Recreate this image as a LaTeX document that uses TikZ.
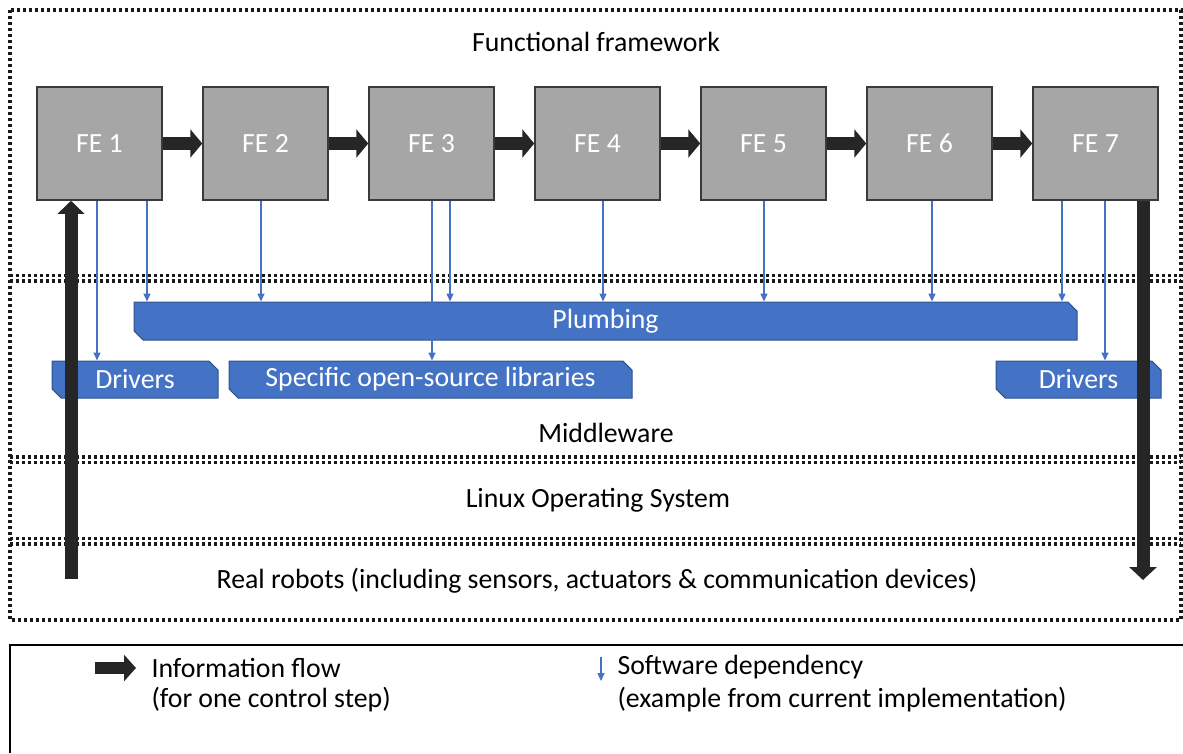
\documentclass[tikz,border=0pt]{standalone}
\usepackage{fontspec}
\setmainfont{Carlito}
\usetikzlibrary{arrows.meta,shapes.misc}

\definecolor{feGray}{HTML}{A6A6A6}
\definecolor{feEdge}{HTML}{3A3A3A}
\definecolor{depBlue}{HTML}{4472C4}
\definecolor{barEdge}{HTML}{2F528F}
\definecolor{flowBlack}{HTML}{262626}

\begin{document}
\begin{tikzpicture}[x=1pt,y=-1pt,
	every node/.style={font=\fontsize{27.8}{33}\selectfont},
	fe/.style={draw=feEdge,line width=1.5pt,fill=feGray,text=white,minimum width=125pt,minimum height=113pt,inner sep=0pt},
	flow/.style={draw=flowBlack,line width=13pt,-{Triangle[length=12pt,width=28pt]}},
	dep/.style={draw=depBlue,line width=1.5pt,-{Triangle[length=8pt,width=7pt]}},
	bar/.style={chamfered rectangle,chamfered rectangle corners={north east,south west},chamfered rectangle xsep=6pt,draw=barEdge,line width=1pt,fill=depBlue,text=white,minimum height=38pt,inner sep=0pt},
	layer/.style={line width=3.4pt,dash pattern=on 3.2pt off 2.8pt,draw=black!90}]
	\useasboundingbox (0,0) rectangle (1183,753);

	% layers
	\draw[layer] (10,10) rectangle (1181,620);
	\draw[layer] (10,275.5) -- (1181,275.5);
	\draw[layer] (10,281) -- (1181,281);
	\draw[layer] (10,457) -- (1181,457);
	\draw[layer] (10,462.5) -- (1181,462.5);
	\draw[layer] (10,538.5) -- (1181,538.5);
	\draw[layer] (10,544) -- (1181,544);

	\node (framework) at (596,42) {Functional framework};
	\node (middleware) at (606,433) {Middleware};
	\node (linux) at (598,500) {Linux Operating System};
	\node (robots) at (597,581) {Real robots (including sensors, actuators \& communication devices)};

	% functional elements
	\node[fe] (fe1) at (99.5,143.5) {FE 1};
	\node[fe] (fe2) at (265.5,143.5) {FE 2};
	\node[fe] (fe3) at (431.5,143.5) {FE 3};
	\node[fe] (fe4) at (597.5,143.5) {FE 4};
	\node[fe] (fe5) at (763.5,143.5) {FE 5};
	\node[fe] (fe6) at (929.5,143.5) {FE 6};
	\node[fe] (fe7) at (1095.5,143.5) {FE 7};

	\draw[flow] (fe1) -- (fe2);
	\draw[flow] (fe2) -- (fe3);
	\draw[flow] (fe3) -- (fe4);
	\draw[flow] (fe4) -- (fe5);
	\draw[flow] (fe5) -- (fe6);
	\draw[flow] (fe6) -- (fe7);

	% middleware blocks
	\node[bar,minimum width=943pt] (plumbing) at (605.5,321) {Plumbing};
	\node[bar,minimum width=166pt,minimum height=37pt] (driversA) at (135,379.5) {Drivers};
	\node[bar,minimum width=403pt,minimum height=37pt] (libs) at (430.5,379.5) {Specific open-source libraries};
	\node[bar,minimum width=165pt,minimum height=37pt] (driversB) at (1078.5,379.5) {Drivers};

	% dependencies
	\coordinate (d1) at (97,200);
	\coordinate (d2) at (147,200);
	\coordinate (d3) at (261,200);
	\coordinate (d4) at (432,200);
	\coordinate (d5) at (450,200);
	\coordinate (d6) at (603,200);
	\coordinate (d7) at (764,200);
	\coordinate (d8) at (932,200);
	\coordinate (d9) at (1062,200);
	\coordinate (d10) at (1105,200);
	\draw[dep] (fe1.south -| d1) -- (d1 |- driversA.north);
	\draw[dep] (fe1.south -| d2) -- (d2 |- plumbing.north);
	\draw[dep] (fe2.south -| d3) -- (d3 |- plumbing.north);
	\draw[dep] (fe3.south -| d4) -- (d4 |- libs.north);
	\draw[dep] (fe3.south -| d5) -- (d5 |- plumbing.north);
	\draw[dep] (fe4.south -| d6) -- (d6 |- plumbing.north);
	\draw[dep] (fe5.south -| d7) -- (d7 |- plumbing.north);
	\draw[dep] (fe6.south -| d8) -- (d8 |- plumbing.north);
	\draw[dep] (fe7.south -| d9) -- (d9 |- plumbing.north);
	\draw[dep] (fe7.south -| d10) -- (d10 |- driversB.north);

	% sensing and acting
	\coordinate (sense) at (71,579);
	\coordinate (act) at (1143,580);
	\draw[flow,-{Triangle[length=13pt,width=26pt]}] (sense) -- (sense |- fe1.south);
	\draw[flow,-{Triangle[length=13pt,width=27pt]}] (act |- fe7.south) -- (act);

	% legend
	\draw[line width=1.5pt] (1183,645) -- (10,645) -- (10,753);
	\coordinate (flowA) at (95,668);
	\coordinate (flowB) at (136,668);
	\draw[flow,line width=12pt,-{Triangle[length=12pt,width=26pt]}] (flowA) -- (flowB);
	\node[anchor=west] (flowText) at (148,668) {Information flow};
	\node[anchor=west] (flowNote) at (148,700) {(for one control step)};
	\coordinate (depA) at (601,657);
	\coordinate (depB) at (601,681);
	\draw[dep] (depA) -- (depB);
	\node[anchor=west] (depText) at (614,667) {Software dependency};
	\node[anchor=west] (depNote) at (614,700) {(example from current implementation)};
\end{tikzpicture}
\end{document}
